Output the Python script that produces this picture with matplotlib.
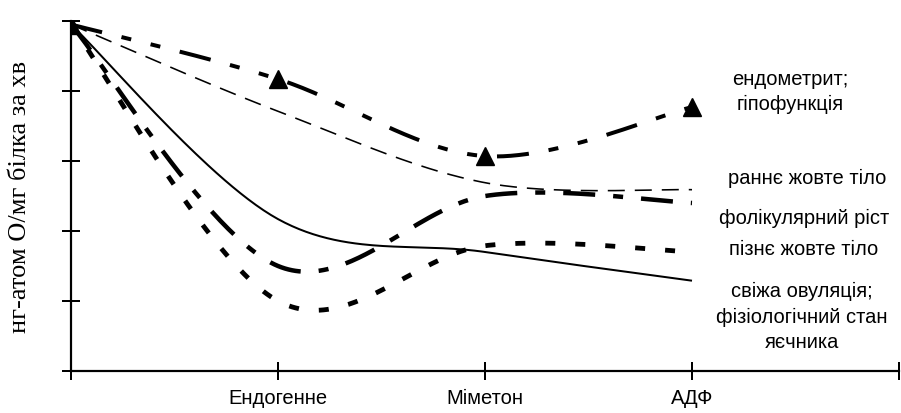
import numpy as np
import matplotlib
matplotlib.use("Agg")
import matplotlib.pyplot as plt

# ---- data ----
x_pos = [0, 1, 2, 3]
x_labels = ["", "Ендогенне", "Міметон", "АДФ"]
y_label = "нг-атом О/мг білка за хв"

endometryt = [4.95, 4.17, 3.07, 3.77]     # ендометрит; гіпофункція
rannie = [4.95, 3.71, 2.69, 2.59]         # раннє жовте тіло
folik = [4.95, 1.50, 2.50, 2.40]          # фолікулярний ріст
piznie = [4.95, 1.00, 1.79, 1.70]         # пізнє жовте тіло
svizha = [4.95, 2.17, 1.70, 1.29]         # свіжа овуляція

series_labels = [
    "ендометрит;\nгіпофункція",
    "раннє жовте тіло",
    "фолікулярний ріст",
    "пізнє жовте тіло",
    "свіжа овуляція;\nфізіологічний стан\nяєчника",
]


def smooth(xs, ys, n=60):
    """Excel-like smoothed line (cubic Bezier through the points)."""
    P = np.column_stack([xs, ys]).astype(float)
    out = []
    m = len(P)
    for i in range(m - 1):
        prev = P[i - 1] if i > 0 else P[i]
        nxt = P[i + 2] if i + 2 < m else P[i + 1]
        c1 = P[i] + (P[i + 1] - prev) / 6.0
        c2 = P[i + 1] - (nxt - P[i]) / 6.0
        t = np.linspace(0, 1, n)[:, None]
        seg = ((1 - t) ** 3) * P[i] + 3 * ((1 - t) ** 2) * t * c1 \
            + 3 * (1 - t) * t ** 2 * c2 + t ** 3 * P[i + 1]
        out.append(seg if i == 0 else seg[1:])
    out = np.vstack(out)
    return out[:, 0], out[:, 1]


plt.rcParams['lines.scale_dashes'] = False
fig = plt.figure(figsize=(9.01, 4.14), dpi=100)
W, H = 901, 414
ax = fig.add_axes([71 / W, (H - 372) / H, (899 - 71) / W, 350 / H])

px = 0.72  # points per pixel at dpi 100

styles = [
    (endometryt, dict(lw=4 * px, dashes=(32 * px, 20 * px, 10 * px, 20 * px, 10 * px, 20 * px))),
    (rannie, dict(lw=1.6 * px, dashes=(17 * px, 10 * px))),
    (folik, dict(lw=4.5 * px, dashes=(32 * px, 18 * px, 10 * px, 18 * px))),
    (piznie, dict(lw=4.8 * px, dashes=(10 * px, 20 * px))),
    (svizha, dict(lw=2 * px)),
]
for ys, st in styles:
    sx, sy = smooth(x_pos, ys)
    ax.plot(sx, sy, color='black', solid_capstyle='butt', dash_capstyle='butt', **st)

ax.plot(x_pos, endometryt, linestyle='none', marker='^', ms=13, color='black')

ax.set_xlim(0, 4)
ax.set_ylim(0, 5)
ax.set_xticks([0, 1, 2, 3, 4])
ax.set_xticklabels(x_labels + [""], fontsize=14.5, family='Liberation Sans')
ax.set_yticks([0, 1, 2, 3, 4, 5])
ax.set_yticklabels([])
ax.tick_params(axis='both', direction='inout', length=18 * px, width=2 * px, color='black')
ax.tick_params(axis='x', pad=6)
for s in ['top', 'right']:
    ax.spines[s].set_visible(False)
for s in ['left', 'bottom']:
    ax.spines[s].set_linewidth(2.2 * px)
ax.set_ylabel(y_label, fontsize=19, family='Liberation Serif', va='center')
ax.yaxis.set_label_coords(-0.062, 0.5)
ax.set_facecolor('none')

label_pos = [(790, 92), (807, 178), (804, 218), (804, 250), (802, 317)]
for (lx, ly), t in zip(label_pos, series_labels):
    fig.text(lx / W, 1 - ly / H, t, ha='center', va='center', fontsize=14.5,
             family='Liberation Sans', linespacing=1.4)

fig.savefig("out.png", dpi=100)
